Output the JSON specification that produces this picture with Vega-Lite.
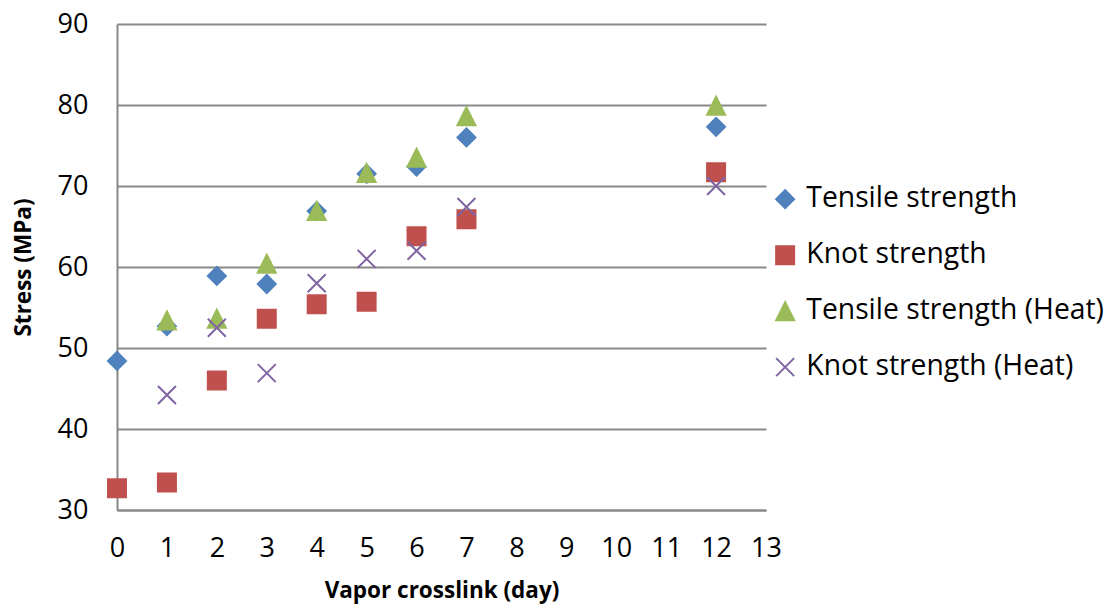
{
  "$schema": "https://vega.github.io/schema/vega-lite/v6.json",
  "width": 649,
  "height": 486,
  "autosize": {"type": "none"},
  "padding": {"left": 117, "top": 24, "right": 342, "bottom": 100},
  "background": "white",
  "config": {
    "font": "Open Sans",
    "view": {"stroke": null},
    "axis": {"labelColor": "#000000", "titleColor": "#000000"}
  },
  "data": {
    "values": [
      {"series": "Tensile strength", "day": 0, "stress": 48.4},
      {"series": "Tensile strength", "day": 1, "stress": 52.7},
      {"series": "Tensile strength", "day": 2, "stress": 58.9},
      {"series": "Tensile strength", "day": 3, "stress": 57.9},
      {"series": "Tensile strength", "day": 4, "stress": 66.9},
      {"series": "Tensile strength", "day": 5, "stress": 71.5},
      {"series": "Tensile strength", "day": 6, "stress": 72.4},
      {"series": "Tensile strength", "day": 7, "stress": 76.0},
      {"series": "Tensile strength", "day": 12, "stress": 77.3},
      {"series": "Knot strength", "day": 0, "stress": 32.7},
      {"series": "Knot strength", "day": 1, "stress": 33.4},
      {"series": "Knot strength", "day": 2, "stress": 46.0},
      {"series": "Knot strength", "day": 3, "stress": 53.6},
      {"series": "Knot strength", "day": 4, "stress": 55.4},
      {"series": "Knot strength", "day": 5, "stress": 55.7},
      {"series": "Knot strength", "day": 6, "stress": 63.8},
      {"series": "Knot strength", "day": 7, "stress": 65.9},
      {"series": "Knot strength", "day": 12, "stress": 71.7},
      {"series": "Tensile strength (Heat)", "day": 1, "stress": 53.4},
      {"series": "Tensile strength (Heat)", "day": 2, "stress": 53.6},
      {"series": "Tensile strength (Heat)", "day": 3, "stress": 60.4},
      {"series": "Tensile strength (Heat)", "day": 4, "stress": 66.9},
      {"series": "Tensile strength (Heat)", "day": 5, "stress": 71.6},
      {"series": "Tensile strength (Heat)", "day": 6, "stress": 73.5},
      {"series": "Tensile strength (Heat)", "day": 7, "stress": 78.6},
      {"series": "Tensile strength (Heat)", "day": 12, "stress": 79.9},
      {"series": "Knot strength (Heat)", "day": 1, "stress": 44.2},
      {"series": "Knot strength (Heat)", "day": 2, "stress": 52.5},
      {"series": "Knot strength (Heat)", "day": 3, "stress": 46.9},
      {"series": "Knot strength (Heat)", "day": 4, "stress": 58.0},
      {"series": "Knot strength (Heat)", "day": 5, "stress": 61.0},
      {"series": "Knot strength (Heat)", "day": 6, "stress": 62.0},
      {"series": "Knot strength (Heat)", "day": 7, "stress": 67.4},
      {"series": "Knot strength (Heat)", "day": 12, "stress": 70.0}
    ]
  },
  "mark": {"type": "point", "filled": true, "size": 400, "strokeWidth": 2, "opacity": 1},
  "encoding": {
    "x": {
      "field": "day",
      "type": "quantitative",
      "scale": {"domain": [0, 13], "nice": false, "zero": false},
      "axis": {
        "title": "Vapor crosslink (day)",
        "values": [0, 1, 2, 3, 4, 5, 6, 7, 8, 9, 10, 11, 12, 13],
        "grid": false,
        "ticks": false,
        "domainColor": "#888888",
        "domainWidth": 2,
        "labelFontSize": 27,
        "labelPadding": 25,
        "labelFlush": false,
        "labelOverlap": false,
        "titleFontSize": 22.5,
        "titleFontWeight": "bold",
        "titlePadding": 18
      }
    },
    "y": {
      "field": "stress",
      "type": "quantitative",
      "scale": {"domain": [30, 90], "nice": false, "zero": false},
      "axis": {
        "title": "Stress (MPa)",
        "values": [30, 40, 50, 60, 70, 80, 90],
        "grid": true,
        "gridColor": "#888888",
        "gridWidth": 2,
        "ticks": false,
        "domainColor": "#888888",
        "domainWidth": 2,
        "labelFontSize": 27,
        "labelPadding": 29,
        "labelFlush": false,
        "labelOverlap": false,
        "titleFontSize": 22.5,
        "titleFontWeight": "bold",
        "titlePadding": 22
      }
    },
    "fill": {
      "field": "series",
      "type": "nominal",
      "scale": {
        "domain": ["Tensile strength", "Knot strength", "Tensile strength (Heat)", "Knot strength (Heat)"],
        "range": ["#4F81BD", "#C0504D", "#9BBB59", "#8064A2"]
      },
      "legend": {
        "title": null,
        "orient": "none",
        "legendX": 654,
        "legendY": 161,
        "labelFontSize": 28.3,
        "labelColor": "#000000",
        "labelOffset": 7,
        "labelLimit": 400,
        "symbolSize": 400,
        "symbolStrokeWidth": 2,
        "rowPadding": 27
      }
    },
    "stroke": {
      "field": "series",
      "type": "nominal",
      "scale": {
        "domain": ["Tensile strength", "Knot strength", "Tensile strength (Heat)", "Knot strength (Heat)"],
        "range": ["#4F81BD", "#C0504D", "#9BBB59", "#8064A2"]
      }
    },
    "shape": {
      "field": "series",
      "type": "nominal",
      "scale": {
        "domain": ["Tensile strength", "Knot strength", "Tensile strength (Heat)", "Knot strength (Heat)"],
        "range": [
          "M-0.9,0L0,-0.9L0.9,0L0,0.9Z",
          "M-0.9,-0.9H0.9V0.9H-0.9Z",
          "M0,-0.9L0.9,0.9H-0.9Z",
          "M-0.9,-0.9L0.9,0.9M0.9,-0.9L-0.9,0.9"
        ]
      }
    }
  }
}
